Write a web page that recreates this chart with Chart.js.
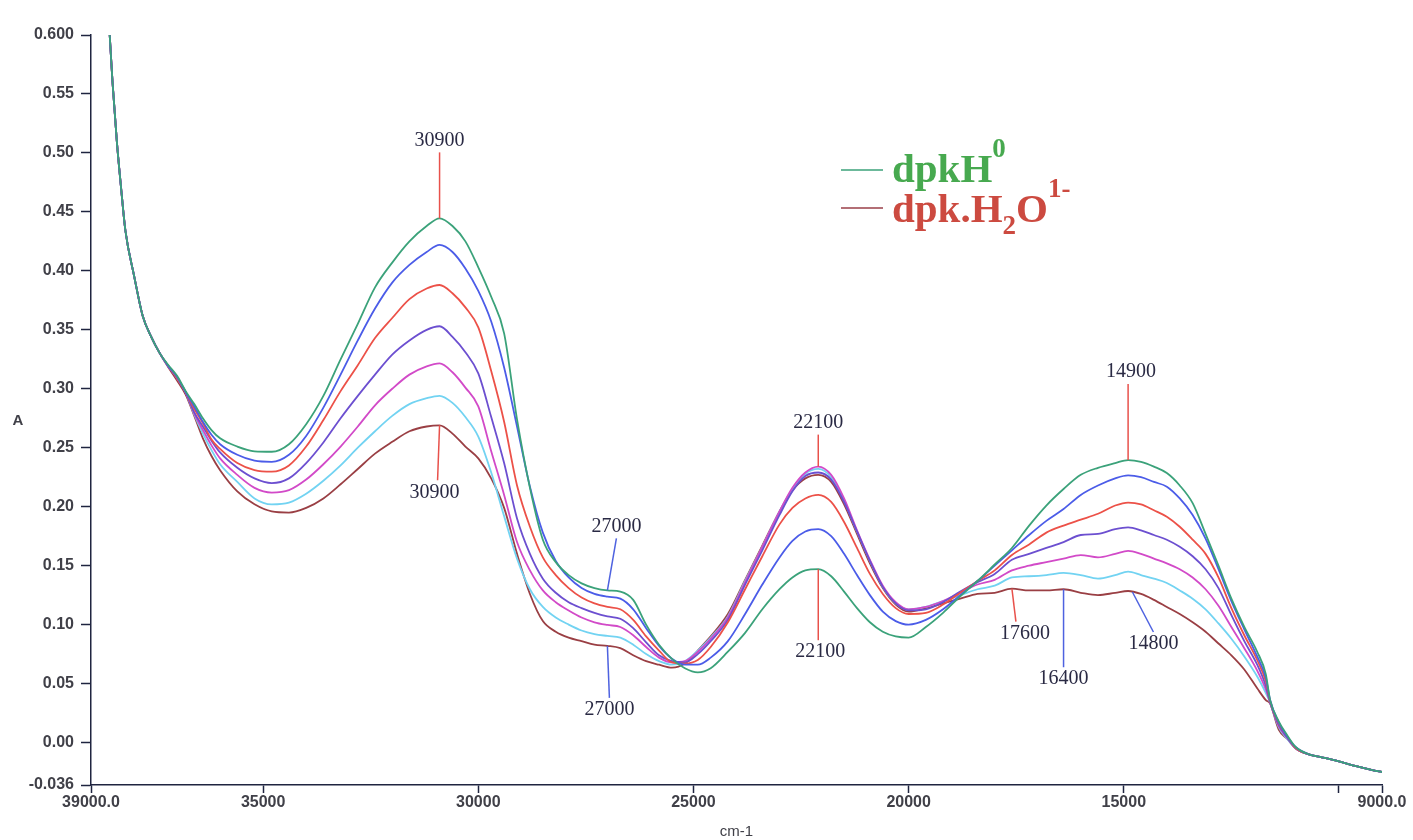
<!DOCTYPE html>
<html>
<head>
<meta charset="utf-8">
<title>dpk absorption spectra</title>
<script src="https://cdn.jsdelivr.net/npm/chart.js@4.4.1/dist/chart.umd.min.js"></script>
<style>
  html, body { margin: 0; padding: 0; background: #ffffff; }
  canvas { display: block; }
</style>
</head>
<body>
<canvas id="spectra" width="1413" height="840"></canvas>
<script>
// Wavenumber grid (cm-1), high to low
const wavenumbers = [
  38570, 38500, 38400, 38300, 38200, 38000, 37800, 37600, 37400, 37200, 37000, 36800,
  36600, 36400, 36200, 36000, 35600, 35200, 34800, 34400, 34000, 33600,
  33200, 32800, 32400, 32000, 31600, 31200, 30900, 30600, 30300, 30000,
  29700, 29400, 29100, 28800, 28500, 28200, 27900, 27600, 27300, 27000,
  26700, 26400, 26100, 25800, 25500, 25200, 24900, 24600, 24200, 23800,
  23400, 23000, 22700, 22400, 22100, 21800, 21500, 21200, 20900, 20600,
  20300, 20000, 19600, 19200, 18800, 18400, 18000, 17600, 17200, 16800,
  16400, 16000, 15600, 15200, 14900, 14600, 14300, 14000, 13700, 13400,
  13100, 12800, 12500, 12200, 11900, 11700, 11600, 11400, 11200, 11000,
  10700, 10400, 10000, 9600, 9200, 9000
];

// Absorbance of each spectrum in the series (dpkH0 -> dpk.H2O1-)
const absDpkH0 = [
  0.603, 0.560, 0.510, 0.470, 0.434, 0.396, 0.362, 0.344, 0.330, 0.320, 0.311, 0.298,
  0.287, 0.275, 0.265, 0.258, 0.251, 0.247, 0.2466, 0.253, 0.270, 0.294,
  0.325, 0.355, 0.386, 0.407, 0.425, 0.438, 0.4445, 0.438, 0.425, 0.403,
  0.378, 0.347, 0.274, 0.216, 0.172, 0.153, 0.142, 0.135, 0.131, 0.129,
  0.128, 0.121, 0.100, 0.083, 0.071, 0.063, 0.0595, 0.063, 0.077, 0.093,
  0.113, 0.130, 0.140, 0.146, 0.147, 0.141, 0.128, 0.114, 0.102, 0.094,
  0.090, 0.089, 0.098, 0.110, 0.124, 0.137, 0.151, 0.165, 0.184, 0.201,
  0.215, 0.227, 0.233, 0.237, 0.2395, 0.238, 0.234, 0.2285, 0.218, 0.203,
  0.177, 0.150, 0.122, 0.098, 0.077, 0.058, 0.036, 0.018, 0.006, -0.004,
  -0.010, -0.0125, -0.016, -0.020, -0.0235, -0.025
];
const absStep2 = [
  0.603, 0.560, 0.510, 0.470, 0.434, 0.396, 0.362, 0.344, 0.330, 0.319, 0.310, 0.297,
  0.285, 0.272, 0.261, 0.253, 0.244, 0.239, 0.238, 0.244, 0.260, 0.284,
  0.312, 0.341, 0.368, 0.390, 0.405, 0.416, 0.422, 0.416, 0.402, 0.383,
  0.357, 0.318, 0.268, 0.217, 0.178, 0.154, 0.140, 0.131, 0.126, 0.1237,
  0.122, 0.113, 0.097, 0.082, 0.071, 0.066, 0.066, 0.072, 0.086, 0.109,
  0.134, 0.157, 0.171, 0.179, 0.181, 0.175, 0.160, 0.142, 0.125, 0.111,
  0.103, 0.100, 0.104, 0.113, 0.125, 0.137, 0.150, 0.163, 0.176, 0.188,
  0.198, 0.210, 0.218, 0.224, 0.2265, 0.225, 0.221, 0.217, 0.207, 0.193,
  0.173, 0.147, 0.120, 0.096, 0.073, 0.055, 0.036, 0.017, 0.005, -0.004,
  -0.010, -0.0125, -0.016, -0.020, -0.0235, -0.025
];
const absStep3 = [
  0.603, 0.560, 0.510, 0.470, 0.434, 0.396, 0.362, 0.344, 0.330, 0.319, 0.309, 0.297,
  0.283, 0.271, 0.257, 0.249, 0.237, 0.231, 0.2297, 0.235, 0.251, 0.2735,
  0.298, 0.320, 0.343, 0.360, 0.376, 0.385, 0.388, 0.381, 0.369, 0.352,
  0.315, 0.272, 0.218, 0.183, 0.157, 0.142, 0.131, 0.123, 0.118, 0.115,
  0.113, 0.104, 0.090, 0.078, 0.068, 0.067, 0.070, 0.081, 0.102, 0.130,
  0.158, 0.185, 0.199, 0.207, 0.210, 0.204, 0.187, 0.165, 0.143, 0.126,
  0.114, 0.109, 0.110, 0.117, 0.127, 0.137, 0.146, 0.159, 0.168, 0.178,
  0.184, 0.189, 0.194, 0.201, 0.2035, 0.202, 0.197, 0.1915, 0.183, 0.172,
  0.160, 0.140, 0.114, 0.091, 0.070, 0.052, 0.035, 0.016, 0.005, -0.005,
  -0.010, -0.0125, -0.016, -0.020, -0.0235, -0.025
];
const absStep4 = [
  0.603, 0.560, 0.510, 0.470, 0.434, 0.396, 0.362, 0.344, 0.330, 0.319, 0.309, 0.297,
  0.280, 0.268, 0.256, 0.246, 0.233, 0.224, 0.220, 0.224, 0.237, 0.2545,
  0.275, 0.294, 0.312, 0.329, 0.341, 0.350, 0.353, 0.344, 0.331, 0.313,
  0.276, 0.237, 0.190, 0.160, 0.139, 0.127, 0.119, 0.114, 0.110, 0.107,
  0.105, 0.097, 0.085, 0.074, 0.069, 0.068, 0.075, 0.086, 0.104, 0.134,
  0.163, 0.193, 0.213, 0.226, 0.229, 0.223, 0.204, 0.179, 0.154, 0.132,
  0.118, 0.112, 0.113, 0.119, 0.128, 0.136, 0.143, 0.155, 0.160, 0.165,
  0.170, 0.176, 0.177, 0.181, 0.1825, 0.180, 0.176, 0.172, 0.166, 0.158,
  0.147, 0.131, 0.108, 0.086, 0.066, 0.048, 0.034, 0.015, 0.004, -0.005,
  -0.010, -0.0125, -0.016, -0.020, -0.0235, -0.025
];
const absStep5 = [
  0.603, 0.560, 0.510, 0.470, 0.434, 0.396, 0.362, 0.344, 0.330, 0.319, 0.309, 0.297,
  0.279, 0.265, 0.252, 0.241, 0.227, 0.216, 0.212, 0.214, 0.223, 0.236,
  0.251, 0.268, 0.286, 0.300, 0.312, 0.319, 0.3215, 0.314, 0.301, 0.285,
  0.247, 0.210, 0.170, 0.146, 0.129, 0.119, 0.112, 0.106, 0.102, 0.0997,
  0.098, 0.091, 0.081, 0.072, 0.068, 0.069, 0.077, 0.088, 0.106, 0.136,
  0.166, 0.196, 0.216, 0.229, 0.234, 0.227, 0.207, 0.180, 0.155, 0.133,
  0.119, 0.113, 0.115, 0.120, 0.127, 0.134, 0.138, 0.146, 0.150, 0.153,
  0.156, 0.159, 0.157, 0.160, 0.1625, 0.160, 0.156, 0.152, 0.147, 0.140,
  0.130, 0.116, 0.098, 0.080, 0.061, 0.045, 0.034, 0.014, 0.004, -0.005,
  -0.010, -0.0125, -0.016, -0.020, -0.0235, -0.025
];
const absStep6 = [
  0.603, 0.560, 0.510, 0.470, 0.434, 0.396, 0.362, 0.344, 0.330, 0.319, 0.309, 0.297,
  0.278, 0.262, 0.248, 0.236, 0.221, 0.207, 0.202, 0.2035, 0.211, 0.222,
  0.235, 0.250, 0.264, 0.277, 0.287, 0.292, 0.294, 0.288, 0.276, 0.2595,
  0.229, 0.192, 0.156, 0.130, 0.115, 0.106, 0.100, 0.095, 0.092, 0.0904,
  0.089, 0.083, 0.075, 0.069, 0.066, 0.069, 0.078, 0.089, 0.107, 0.137,
  0.166, 0.196, 0.215, 0.228, 0.232, 0.225, 0.205, 0.179, 0.154, 0.132,
  0.118, 0.113, 0.115, 0.120, 0.125, 0.130, 0.133, 0.140, 0.141, 0.142,
  0.1438, 0.142, 0.139, 0.142, 0.1449, 0.142, 0.139, 0.1353, 0.129, 0.122,
  0.113, 0.101, 0.088, 0.073, 0.056, 0.042, 0.034, 0.013, 0.003, -0.005,
  -0.010, -0.0125, -0.016, -0.020, -0.0235, -0.025
];
const absDpkH2O = [
  0.603, 0.560, 0.510, 0.470, 0.434, 0.396, 0.362, 0.344, 0.330, 0.318, 0.307, 0.295,
  0.277, 0.258, 0.243, 0.231, 0.213, 0.202, 0.196, 0.195, 0.199, 0.207,
  0.219, 0.232, 0.245, 0.255, 0.264, 0.268, 0.269, 0.262, 0.251, 0.241,
  0.224, 0.199, 0.160, 0.126, 0.103, 0.094, 0.089, 0.086, 0.083, 0.082,
  0.080, 0.074, 0.069, 0.066, 0.0635, 0.067, 0.078, 0.090, 0.109, 0.138,
  0.167, 0.196, 0.214, 0.224, 0.227, 0.221, 0.202, 0.177, 0.152, 0.131,
  0.117, 0.111, 0.114, 0.118, 0.122, 0.126, 0.127, 0.1305, 0.129, 0.129,
  0.130, 0.127, 0.125, 0.127, 0.1285, 0.126, 0.121, 0.115, 0.109, 0.102,
  0.094, 0.084, 0.074, 0.062, 0.046, 0.036, 0.033, 0.011, 0.003, -0.005,
  -0.010, -0.0125, -0.016, -0.020, -0.0235, -0.025
];

// Axis ticks
const xTickValues = [39000, 35000, 30000, 25000, 20000, 15000, 10000, 9000];
const yTickValues = [-0.036, 0.00, 0.05, 0.10, 0.15, 0.20, 0.25, 0.30, 0.35, 0.40, 0.45, 0.50, 0.55, 0.600];

// Peak picks: wavenumber and the spectrum it is read from
const peakWavenumbers = [30900, 30900, 27000, 27000, 22100, 22100, 17600, 16400, 14900, 14800];
const peakSpectra = ['dpkH0', 'dpkH2O', 'dpkH0', 'dpkH2O', 'step5', 'dpkH0', 'dpkH2O', 'dpkH2O', 'dpkH0', 'dpkH2O'];

const spectra = [
  { key: 'dpkH0',  label: 'dpkH0',     values: absDpkH0,  color: '#3ba27a' },
  { key: 'step2',  label: 'step 2',    values: absStep2,  color: '#4b5ce8' },
  { key: 'step3',  label: 'step 3',    values: absStep3,  color: '#ec5148' },
  { key: 'step4',  label: 'step 4',    values: absStep4,  color: '#6c4fd0' },
  { key: 'step5',  label: 'step 5',    values: absStep5,  color: '#d24ac8' },
  { key: 'step6',  label: 'step 6',    values: absStep6,  color: '#72d3f2' },
  { key: 'dpkH2O', label: 'dpk.H2O1-', values: absDpkH2O, color: '#9a3f44' }
];

// Leader-line layout for each peak pick (pixels)
const peakLayout = [
  { dir: -1, len: 66, dx: 0,  tx: 0 },
  { dir:  1, len: 55, dx: -2, tx: -3 },
  { dir: -1, len: 52, dx: 9,  tx: 0 },
  { dir:  1, len: 52, dx: 2,  tx: 0 },
  { dir: -1, len: 32, dx: 0,  tx: 0 },
  { dir:  1, len: 71, dx: 0,  tx: 2 },
  { dir:  1, len: 33, dx: 4,  tx: 9 },
  { dir:  1, len: 78, dx: 0,  tx: 0 },
  { dir: -1, len: 76, dx: 0,  tx: 3 },
  { dir:  1, len: 40, dx: 21, tx: 0 }
];
const leaderColors = ['#e8514b', '#e8514b', '#4e62e0', '#4e62e0', '#e8514b', '#e8514b', '#e8514b', '#4e62e0', '#e8514b', '#4e62e0'];

const axisInk = '#1f2440';
const tickInk = '#404048';
const labelInk = '#2a2a44';

function valueAt(values, wn) {
  for (let i = 0; i < wavenumbers.length - 1; i++) {
    const a = wavenumbers[i], b = wavenumbers[i + 1];
    if (wn <= a && wn >= b) {
      const t = (a - wn) / (a - b);
      return values[i] + t * (values[i + 1] - values[i]);
    }
  }
  return values[values.length - 1];
}

const whiteBackground = {
  id: 'whiteBackground',
  beforeDraw(chart) {
    const { ctx, width, height } = chart;
    ctx.save();
    ctx.fillStyle = '#ffffff';
    ctx.fillRect(0, 0, width, height);
    ctx.restore();
  }
};

const peakMarks = {
  id: 'peakMarks',
  afterDatasetsDraw(chart) {
    const { ctx, scales: { x, y } } = chart;
    ctx.save();
    ctx.font = '20px "Liberation Serif", "DejaVu Serif", serif';
    ctx.textAlign = 'center';
    ctx.textBaseline = 'middle';
    peakWavenumbers.forEach((wn, i) => {
      const spec = spectra.find(s => s.key === peakSpectra[i]);
      const lay = peakLayout[i];
      const px = x.getPixelForValue(wn);
      const py = y.getPixelForValue(valueAt(spec.values, wn));
      const ex = px + lay.dx;
      const ey = py + lay.dir * lay.len;
      ctx.strokeStyle = leaderColors[i];
      ctx.lineWidth = 1.5;
      ctx.beginPath();
      ctx.moveTo(px, py);
      ctx.lineTo(ex, ey);
      ctx.stroke();
      ctx.fillStyle = labelInk;
      ctx.fillText(String(wn), ex + lay.tx, ey + lay.dir * 12);
    });
    ctx.restore();
  }
};

const axisTitles = {
  id: 'axisTitles',
  afterDraw(chart) {
    const { ctx, chartArea } = chart;
    ctx.save();
    ctx.fillStyle = tickInk;
    ctx.textAlign = 'center';
    ctx.textBaseline = 'middle';
    ctx.font = 'bold 15px "Liberation Sans", Arial, sans-serif';
    ctx.fillText('A', 18, 421);
    ctx.font = '15px "Liberation Sans", Arial, sans-serif';
    ctx.fillText('cm-1', (chartArea.left + chartArea.right) / 2, 832);
    ctx.restore();
  }
};

// Legend with sub/superscripts
const richLegend = {
  id: 'richLegend',
  afterDraw(chart) {
    const { ctx } = chart;
    const big = 'bold 41px "Liberation Serif", "DejaVu Serif", serif';
    const small = 'bold 27px "Liberation Serif", "DejaVu Serif", serif';
    const rows = [
      { line: '#3ba27a', ink: '#47a94f', y: 170, base: 182,
        parts: [['dpkH', big, 0], ['0', small, -25]] },
      { line: '#9a3f48', ink: '#cc4a40', y: 208, base: 222,
        parts: [['dpk.H', big, 0], ['2', small, 12], ['O', big, 0], ['1-', small, -25]] }
    ];
    ctx.save();
    ctx.textBaseline = 'alphabetic';
    ctx.textAlign = 'left';
    rows.forEach(r => {
      ctx.strokeStyle = r.line;
      ctx.lineWidth = 1.6;
      ctx.beginPath();
      ctx.moveTo(841, r.y);
      ctx.lineTo(883, r.y);
      ctx.stroke();
      let cx = 892;
      ctx.fillStyle = r.ink;
      r.parts.forEach(([txt, font, shift]) => {
        ctx.font = font;
        ctx.fillText(txt, cx, r.base + shift);
        cx += ctx.measureText(txt).width;
      });
    });
    ctx.restore();
  }
};

const tickFont = { family: '"Liberation Sans", Arial, sans-serif', size: 16, weight: 'bold' };

new Chart(document.getElementById('spectra'), {
  type: 'line',
  data: {
    datasets: spectra.map(s => ({
      label: s.label,
      data: wavenumbers.map((w, i) => ({ x: w, y: s.values[i] })),
      borderColor: s.color,
      backgroundColor: s.color,
      borderWidth: 1.8,
      pointRadius: 0,
      fill: false,
      cubicInterpolationMode: 'monotone'
    }))
  },
  options: {
    responsive: false,
    animation: false,
    devicePixelRatio: 1,
    layout: { padding: { top: 35, right: 31, left: 0, bottom: 0 } },
    plugins: { legend: { display: false }, tooltip: { enabled: false } },
    scales: {
      x: {
        type: 'linear',
        reverse: true,
        min: 9000,
        max: 39000,
        afterBuildTicks: s => { s.ticks = xTickValues.map(v => ({ value: v })); },
        afterFit: s => { s.height = 55; },
        ticks: {
          autoSkip: false,
          maxRotation: 0,
          padding: 0,
          color: tickInk,
          font: tickFont,
          callback: v => (v === 39000 ? '39000.0' : v === 9000 ? '9000.0' : v === 10000 ? '' : String(v))
        },
        grid: { drawOnChartArea: false, drawTicks: true, tickLength: 8, tickColor: axisInk, tickWidth: 1.5 },
        border: { display: true, color: axisInk, width: 1.5 }
      },
      y: {
        type: 'linear',
        min: -0.036,
        max: 0.6,
        afterBuildTicks: s => { s.ticks = yTickValues.map(v => ({ value: v })); },
        afterFit: s => { s.width = 91; },
        ticks: {
          autoSkip: false,
          padding: 7,
          color: tickInk,
          font: tickFont,
          callback: v => (v === -0.036 ? '-0.036' : v === 0.6 ? '0.600' : v.toFixed(2))
        },
        grid: { drawOnChartArea: false, drawTicks: true, tickLength: 10, tickColor: axisInk, tickWidth: 1.5 },
        border: { display: true, color: axisInk, width: 1.5 }
      }
    }
  },
  plugins: [whiteBackground, peakMarks, axisTitles, richLegend]
});
</script>
</body>
</html>
